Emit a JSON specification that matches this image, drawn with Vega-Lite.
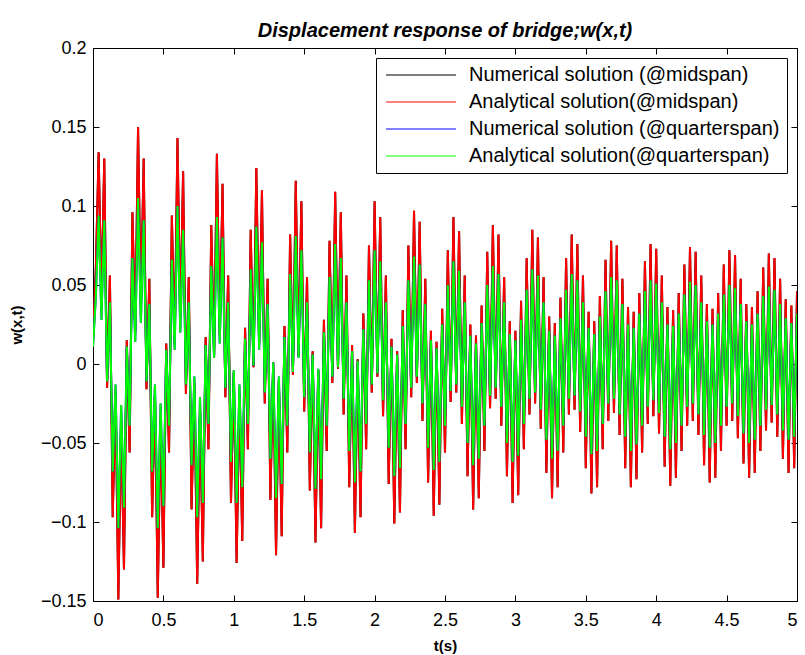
{
  "$schema": "https://vega.github.io/schema/vega-lite/v6.json",
  "width": 704,
  "height": 553,
  "autosize": {"type": "none"},
  "padding": {"left": 93, "top": 48, "right": 8, "bottom": 54},
  "background": "white",
  "title": {"text": "Displacement response of bridge;w(x,t)", "font": "Liberation Sans", "fontSize": 20, "fontWeight": "bold", "fontStyle": "italic", "color": "black", "offset": -2, "anchor": "middle"},
  "config": {
    "view": {"stroke": "black", "strokeWidth": 1},
    "axis": {"grid": false, "domainColor": "black", "tickColor": "black", "labelColor": "black", "titleColor": "black", "labelFont": "Liberation Sans", "labelFontSize": 18, "titleFont": "Liberation Sans", "titleFontWeight": "bold", "titleFontSize": 15, "tickSize": -6}
  },
  "resolve": {"axis": {"x": "independent", "y": "independent"}},
  "data": {"values": [
{"t":0,"m":0.016,"q":0.011},{"t":0.02,"m":0.06,"q":0.042},{"t":0.04,"m":0.134,"q":0.094},{"t":0.06,"m":0.04,"q":0.028},{"t":0.08,"m":0.13,"q":0.091},{"t":0.1,"m":-0.015,"q":-0.011},{"t":0.12,"m":0.056,"q":0.039},{"t":0.14,"m":-0.097,"q":-0.068},{"t":0.16,"m":-0.018,"q":-0.013},{"t":0.18,"m":-0.149,"q":-0.104},{"t":0.2,"m":-0.037,"q":-0.026},{"t":0.22,"m":-0.13,"q":-0.091},{"t":0.24,"m":0.015,"q":0.011},{"t":0.26,"m":-0.056,"q":-0.039},
{"t":0.28,"m":0.096,"q":0.067},{"t":0.3,"m":0.02,"q":0.014},{"t":0.32,"m":0.15,"q":0.105},{"t":0.34,"m":0.037,"q":0.026},{"t":0.36,"m":0.13,"q":0.091},{"t":0.38,"m":-0.016,"q":-0.011},{"t":0.4,"m":0.054,"q":0.038},{"t":0.42,"m":-0.097,"q":-0.068},{"t":0.44,"m":-0.019,"q":-0.013},{"t":0.46,"m":-0.148,"q":-0.104},{"t":0.48,"m":-0.035,"q":-0.025},{"t":0.5,"m":-0.129,"q":-0.09},{"t":0.52,"m":0.013,"q":0.009},{"t":0.54,"m":-0.056,"q":-0.039},
{"t":0.56,"m":0.094,"q":0.066},{"t":0.58,"m":0.013,"q":0.009},{"t":0.6,"m":0.143,"q":0.1},{"t":0.62,"m":0.029,"q":0.02},{"t":0.64,"m":0.122,"q":0.085},{"t":0.66,"m":-0.019,"q":-0.013},{"t":0.68,"m":0.055,"q":0.039},{"t":0.7,"m":-0.092,"q":-0.064},{"t":0.72,"m":-0.012,"q":-0.008},{"t":0.74,"m":-0.139,"q":-0.097},{"t":0.76,"m":-0.03,"q":-0.021},{"t":0.78,"m":-0.125,"q":-0.088},{"t":0.8,"m":0.017,"q":0.012},{"t":0.82,"m":-0.054,"q":-0.038},
{"t":0.84,"m":0.088,"q":0.062},{"t":0.86,"m":0.005,"q":0.004},{"t":0.88,"m":0.133,"q":0.093},{"t":0.9,"m":0.018,"q":0.013},{"t":0.92,"m":0.114,"q":0.08},{"t":0.94,"m":-0.021,"q":-0.015},{"t":0.96,"m":0.056,"q":0.039},{"t":0.98,"m":-0.088,"q":-0.062},{"t":1,"m":-0.005,"q":-0.004},{"t":1.02,"m":-0.126,"q":-0.088},{"t":1.04,"m":-0.019,"q":-0.013},{"t":1.06,"m":-0.112,"q":-0.078},{"t":1.08,"m":0.023,"q":0.016},{"t":1.1,"m":-0.054,"q":-0.038},
{"t":1.12,"m":0.085,"q":0.06},{"t":1.14,"m":-0.002,"q":-0.001},{"t":1.16,"m":0.124,"q":0.087},{"t":1.18,"m":0.013,"q":0.009},{"t":1.2,"m":0.11,"q":0.077},{"t":1.22,"m":-0.025,"q":-0.018},{"t":1.24,"m":0.054,"q":0.038},{"t":1.26,"m":-0.086,"q":-0.06},{"t":1.28,"m":0.001,"q":0.001},{"t":1.3,"m":-0.121,"q":-0.085},{"t":1.32,"m":-0.011,"q":-0.008},{"t":1.34,"m":-0.109,"q":-0.076},{"t":1.36,"m":0.024,"q":0.017},{"t":1.38,"m":-0.056,"q":-0.039},
{"t":1.4,"m":0.082,"q":0.057},{"t":1.42,"m":-0.007,"q":-0.005},{"t":1.44,"m":0.116,"q":0.081},{"t":1.46,"m":0.005,"q":0.004},{"t":1.48,"m":0.103,"q":0.072},{"t":1.5,"m":-0.03,"q":-0.021},{"t":1.52,"m":0.055,"q":0.039},{"t":1.54,"m":-0.08,"q":-0.056},{"t":1.56,"m":0.008,"q":0.006},{"t":1.58,"m":-0.113,"q":-0.079},{"t":1.6,"m":-0.004,"q":-0.003},{"t":1.62,"m":-0.104,"q":-0.073},{"t":1.64,"m":0.028,"q":0.02},{"t":1.66,"m":-0.055,"q":-0.039},
{"t":1.68,"m":0.078,"q":0.055},{"t":1.7,"m":-0.012,"q":-0.008},{"t":1.72,"m":0.109,"q":0.076},{"t":1.74,"m":-0.003,"q":-0.002},{"t":1.76,"m":0.096,"q":0.067},{"t":1.78,"m":-0.032,"q":-0.022},{"t":1.8,"m":0.056,"q":0.039},{"t":1.82,"m":-0.078,"q":-0.055},{"t":1.84,"m":0.012,"q":0.008},{"t":1.86,"m":-0.107,"q":-0.075},{"t":1.88,"m":0.003,"q":0.002},{"t":1.9,"m":-0.097,"q":-0.068},{"t":1.92,"m":0.032,"q":0.022},{"t":1.94,"m":-0.054,"q":-0.038},
{"t":1.96,"m":0.075,"q":0.053},{"t":1.98,"m":-0.018,"q":-0.013},{"t":2,"m":0.103,"q":0.072},{"t":2.02,"m":-0.008,"q":-0.006},{"t":2.04,"m":0.093,"q":0.065},{"t":2.06,"m":-0.033,"q":-0.023},{"t":2.08,"m":0.056,"q":0.039},{"t":2.1,"m":-0.076,"q":-0.053},{"t":2.12,"m":0.016,"q":0.011},{"t":2.14,"m":-0.101,"q":-0.071},{"t":2.16,"m":0.008,"q":0.006},{"t":2.18,"m":-0.094,"q":-0.066},{"t":2.2,"m":0.034,"q":0.024},{"t":2.22,"m":-0.054,"q":-0.038},
{"t":2.24,"m":0.075,"q":0.053},{"t":2.26,"m":-0.021,"q":-0.015},{"t":2.28,"m":0.097,"q":0.068},{"t":2.3,"m":-0.012,"q":-0.008},{"t":2.32,"m":0.09,"q":0.063},{"t":2.34,"m":-0.036,"q":-0.025},{"t":2.36,"m":0.054,"q":0.038},{"t":2.38,"m":-0.075,"q":-0.053},{"t":2.4,"m":0.021,"q":0.015},{"t":2.42,"m":-0.096,"q":-0.067},{"t":2.44,"m":0.014,"q":0.01},{"t":2.46,"m":-0.089,"q":-0.062},{"t":2.48,"m":0.035,"q":0.025},{"t":2.5,"m":-0.056,"q":-0.039},
{"t":2.52,"m":0.072,"q":0.05},{"t":2.54,"m":-0.024,"q":-0.017},{"t":2.56,"m":0.093,"q":0.065},{"t":2.58,"m":-0.018,"q":-0.013},{"t":2.6,"m":0.084,"q":0.059},{"t":2.62,"m":-0.038,"q":-0.027},{"t":2.64,"m":0.056,"q":0.039},{"t":2.66,"m":-0.071,"q":-0.05},{"t":2.68,"m":0.025,"q":0.018},{"t":2.7,"m":-0.092,"q":-0.064},{"t":2.72,"m":0.018,"q":0.013},{"t":2.74,"m":-0.085,"q":-0.06},{"t":2.76,"m":0.037,"q":0.026},{"t":2.78,"m":-0.055,"q":-0.039},
{"t":2.8,"m":0.071,"q":0.05},{"t":2.82,"m":-0.028,"q":-0.02},{"t":2.84,"m":0.088,"q":0.062},{"t":2.86,"m":-0.022,"q":-0.015},{"t":2.88,"m":0.082,"q":0.057},{"t":2.9,"m":-0.039,"q":-0.027},{"t":2.92,"m":0.055,"q":0.039},{"t":2.94,"m":-0.071,"q":-0.05},{"t":2.96,"m":0.027,"q":0.019},{"t":2.98,"m":-0.088,"q":-0.062},{"t":3,"m":0.021,"q":0.015},{"t":3.02,"m":-0.083,"q":-0.058},{"t":3.04,"m":0.04,"q":0.028},{"t":3.06,"m":-0.054,"q":-0.038},
{"t":3.08,"m":0.067,"q":0.047},{"t":3.1,"m":-0.032,"q":-0.022},{"t":3.12,"m":0.085,"q":0.06},{"t":3.14,"m":-0.025,"q":-0.018},{"t":3.16,"m":0.08,"q":0.056},{"t":3.18,"m":-0.041,"q":-0.029},{"t":3.2,"m":0.055,"q":0.039},{"t":3.22,"m":-0.069,"q":-0.048},{"t":3.24,"m":0.03,"q":0.021},{"t":3.26,"m":-0.085,"q":-0.06},{"t":3.28,"m":0.026,"q":0.018},{"t":3.3,"m":-0.078,"q":-0.055},{"t":3.32,"m":0.042,"q":0.029},{"t":3.34,"m":-0.056,"q":-0.039},
{"t":3.36,"m":0.067,"q":0.047},{"t":3.38,"m":-0.032,"q":-0.022},{"t":3.4,"m":0.082,"q":0.057},{"t":3.42,"m":-0.029,"q":-0.02},{"t":3.44,"m":0.076,"q":0.053},{"t":3.46,"m":-0.043,"q":-0.03},{"t":3.48,"m":0.056,"q":0.039},{"t":3.5,"m":-0.066,"q":-0.046},{"t":3.52,"m":0.033,"q":0.023},{"t":3.54,"m":-0.082,"q":-0.057},{"t":3.56,"m":0.027,"q":0.019},{"t":3.58,"m":-0.078,"q":-0.055},{"t":3.6,"m":0.043,"q":0.03},{"t":3.62,"m":-0.054,"q":-0.038},
{"t":3.64,"m":0.066,"q":0.046},{"t":3.66,"m":-0.036,"q":-0.025},{"t":3.68,"m":0.078,"q":0.055},{"t":3.7,"m":-0.031,"q":-0.022},{"t":3.72,"m":0.075,"q":0.053},{"t":3.74,"m":-0.045,"q":-0.032},{"t":3.76,"m":0.054,"q":0.038},{"t":3.78,"m":-0.066,"q":-0.046},{"t":3.8,"m":0.036,"q":0.025},{"t":3.82,"m":-0.078,"q":-0.055},{"t":3.84,"m":0.033,"q":0.023},{"t":3.86,"m":-0.073,"q":-0.051},{"t":3.88,"m":0.045,"q":0.032},{"t":3.9,"m":-0.056,"q":-0.039},
{"t":3.92,"m":0.065,"q":0.046},{"t":3.94,"m":-0.038,"q":-0.027},{"t":3.96,"m":0.076,"q":0.053},{"t":3.98,"m":-0.033,"q":-0.023},{"t":4,"m":0.073,"q":0.051},{"t":4.02,"m":-0.044,"q":-0.031},{"t":4.04,"m":0.056,"q":0.039},{"t":4.06,"m":-0.065,"q":-0.046},{"t":4.08,"m":0.036,"q":0.025},{"t":4.1,"m":-0.077,"q":-0.054},{"t":4.12,"m":0.034,"q":0.024},{"t":4.14,"m":-0.072,"q":-0.05},{"t":4.16,"m":0.045,"q":0.032},{"t":4.18,"m":-0.055,"q":-0.039},
{"t":4.2,"m":0.063,"q":0.044},{"t":4.22,"m":-0.039,"q":-0.027},{"t":4.24,"m":0.074,"q":0.052},{"t":4.26,"m":-0.036,"q":-0.025},{"t":4.28,"m":0.071,"q":0.05},{"t":4.3,"m":-0.045,"q":-0.032},{"t":4.32,"m":0.056,"q":0.039},{"t":4.34,"m":-0.064,"q":-0.045},{"t":4.36,"m":0.038,"q":0.027},{"t":4.38,"m":-0.075,"q":-0.053},{"t":4.4,"m":0.035,"q":0.025},{"t":4.42,"m":-0.072,"q":-0.05},{"t":4.44,"m":0.045,"q":0.032},{"t":4.46,"m":-0.055,"q":-0.039},
{"t":4.48,"m":0.063,"q":0.044},{"t":4.5,"m":-0.039,"q":-0.027},{"t":4.52,"m":0.072,"q":0.05},{"t":4.54,"m":-0.036,"q":-0.025},{"t":4.56,"m":0.069,"q":0.048},{"t":4.58,"m":-0.047,"q":-0.033},{"t":4.6,"m":0.054,"q":0.038},{"t":4.62,"m":-0.063,"q":-0.044},{"t":4.64,"m":0.038,"q":0.027},{"t":4.66,"m":-0.072,"q":-0.05},{"t":4.68,"m":0.036,"q":0.025},{"t":4.7,"m":-0.069,"q":-0.048},{"t":4.72,"m":0.046,"q":0.032},{"t":4.74,"m":-0.055,"q":-0.039},
{"t":4.76,"m":0.061,"q":0.043},{"t":4.78,"m":-0.042,"q":-0.029},{"t":4.8,"m":0.07,"q":0.049},{"t":4.82,"m":-0.037,"q":-0.026},{"t":4.84,"m":0.067,"q":0.047},{"t":4.86,"m":-0.046,"q":-0.032},{"t":4.88,"m":0.054,"q":0.038},{"t":4.9,"m":-0.06,"q":-0.042},{"t":4.92,"m":0.041,"q":0.029},{"t":4.94,"m":-0.069,"q":-0.048},{"t":4.96,"m":0.037,"q":0.026},{"t":4.98,"m":-0.066,"q":-0.046},{"t":5,"m":0.046,"q":0.032}
  ]},
  "layer": [
    {"mark": {"type": "line", "strokeWidth": 2, "clip": true},
     "encoding": {
       "x": {"field": "t", "type": "quantitative", "title": "t(s)", "scale": {"domain": [0, 5], "nice": false, "zero": false}, "axis": {"orient": "bottom", "values": [0,0.5,1,1.5,2,2.5,3,3.5,4,4.5,5], "format": "~g", "labelPadding": 16, "titlePadding": 9}},
       "y": {"field": "m", "type": "quantitative", "title": "w(x,t)", "scale": {"domain": [-0.15, 0.2], "nice": false, "zero": false}, "axis": {"orient": "left", "values": [-0.15,-0.1,-0.05,0,0.05,0.1,0.15,0.2], "format": "~g", "labelPadding": 13, "titlePadding": 16}},
       "color": {"datum": "Numerical solution (@midspan)", "scale": {"domain": ["Numerical solution (@midspan)", "Analytical solution(@midspan)", "Numerical solution (@quarterspan)", "Analytical solution(@quarterspan)"], "range": ["#000000", "#ff0000", "#0000ff", "#00ff00"]}, "legend": {"orient": "top-right", "offset": 10, "title": null, "strokeColor": "black", "fillColor": "white", "padding": 7, "labelFont": "Liberation Sans", "labelFontSize": 20, "labelColor": "black", "symbolType": "M-7,0H7", "symbolSize": 100, "symbolStrokeWidth": 1, "symbolOffset": 28, "rowPadding": 7, "labelOffset": 38, "labelLimit": 400, "cornerRadius": 0}}}},
    {"mark": {"type": "line", "strokeWidth": 2, "clip": true},
     "encoding": {
       "x": {"field": "t", "type": "quantitative", "axis": {"orient": "top", "values": [0,0.5,1,1.5,2,2.5,3,3.5,4,4.5,5], "labels": false, "title": null}},
       "y": {"field": "m", "type": "quantitative", "axis": {"orient": "right", "values": [-0.15,-0.1,-0.05,0,0.05,0.1,0.15,0.2], "labels": false, "title": null}},
       "color": {"datum": "Analytical solution(@midspan)"}}},
    {"mark": {"type": "line", "strokeWidth": 2, "clip": true},
     "encoding": {"x": {"field": "t", "type": "quantitative", "axis": null}, "y": {"field": "q", "type": "quantitative", "axis": null}, "color": {"datum": "Numerical solution (@quarterspan)"}}},
    {"mark": {"type": "line", "strokeWidth": 2, "clip": true},
     "encoding": {"x": {"field": "t", "type": "quantitative", "axis": null}, "y": {"field": "q", "type": "quantitative", "axis": null}, "color": {"datum": "Analytical solution(@quarterspan)"}}}
  ]
}
